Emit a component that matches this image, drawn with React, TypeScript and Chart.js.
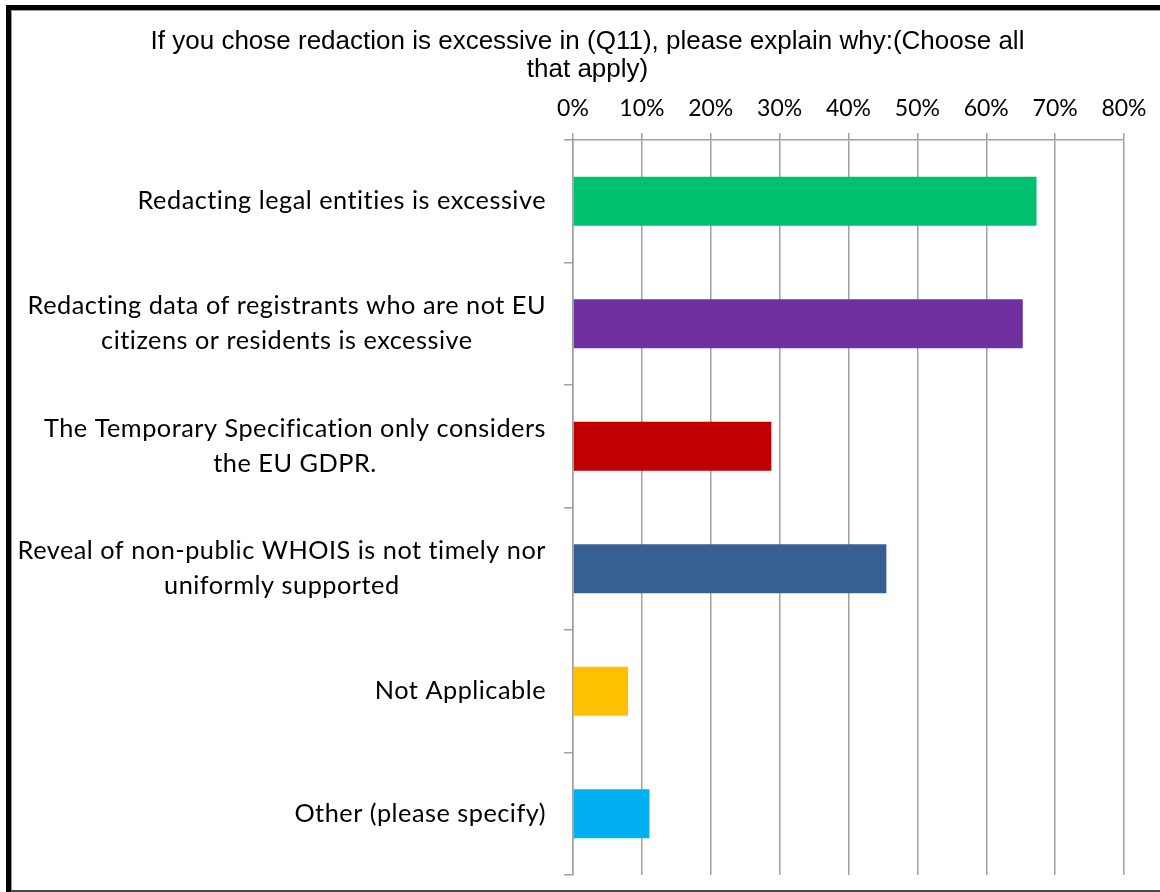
import React, { useEffect, useRef } from 'react';
import { Chart, registerables } from 'chart.js';

Chart.register(...registerables);

const titleLines: string[] = [
  'If you chose redaction is excessive in (Q11), please explain why:(Choose all',
  'that apply)',
];

const categories: string[][] = [
  ['Redacting legal entities is excessive'],
  ['Redacting data of registrants who are not EU', 'citizens or residents is excessive'],
  ['The Temporary Specification only considers', 'the EU GDPR.'],
  ['Reveal of non-public WHOIS is not timely nor', 'uniformly supported'],
  ['Not Applicable'],
  ['Other (please specify)'],
];

const values: number[] = [67.3, 65.3, 28.8, 45.5, 8.0, 11.1];

const barColors: string[] = ['#00BF6F', '#7030A0', '#C00000', '#366092', '#FFC000', '#00B0F0'];

const xMax = 80;
const xStep = 10;

const LABEL_FONT = '25.3px Lato, "Noto Sans", sans-serif';

const frame = {
  id: 'frame',
  beforeDraw(chart: any) {
    const ctx = chart.ctx;
    const w = chart.width;
    const h = chart.height;
    ctx.save();
    ctx.fillStyle = '#ffffff';
    ctx.fillRect(0, 0, w, h);
    ctx.fillStyle = '#000000';
    ctx.fillRect(6, 5, w - 6, 5);
    ctx.fillRect(6, 5, 5, h - 5);
    ctx.fillStyle = '#9a9a9a';
    ctx.fillRect(11, 10, w - 11, 1);
    ctx.fillRect(11, 10, 1, h - 10);
    ctx.fillStyle = '#4a4a4a';
    ctx.fillRect(11, h - 2, w - 11, 2);
    ctx.restore();
  },
};

const yLabels = {
  id: 'yLabels',
  afterDraw(chart: any) {
    const ctx = chart.ctx;
    const ys = chart.scales.y;
    const area = chart.chartArea;
    ctx.save();
    ctx.font = LABEL_FONT;
    try {
      (ctx as any).letterSpacing = '0.5px';
    } catch (e) {
      /* ignore */
    }
    ctx.fillStyle = '#000000';
    ctx.textAlign = 'center';
    ctx.textBaseline = 'middle';
    const lh = 35;
    categories.forEach((lines, i) => {
      const yc = ys.getPixelForValue(i);
      const widest = Math.max(...lines.map((l) => ctx.measureText(l).width));
      const cx = area.left - 27 - widest / 2;
      lines.forEach((l, j) => {
        ctx.fillText(l, cx, yc + (j - (lines.length - 1) / 2) * lh);
      });
    });
    ctx.restore();
  },
};

export default function App() {
  const ref = useRef<HTMLCanvasElement | null>(null);

  useEffect(() => {
    document.body.style.margin = '0';
    const canvas = ref.current;
    if (!canvas) return;
    const chart = new Chart(canvas, {
      type: 'bar',
      data: {
        labels: categories.map((c) => c.join(' ')),
        datasets: [
          {
            data: values,
            backgroundColor: barColors,
            borderWidth: 0,
            barPercentage: 0.4,
            categoryPercentage: 1,
          },
        ],
      },
      options: {
        indexAxis: 'y',
        responsive: false,
        animation: false,
        devicePixelRatio: 1,
        layout: { padding: { left: 15, right: 0, top: 12, bottom: 17 } },
        plugins: {
          legend: { display: false },
          tooltip: { enabled: false },
          title: {
            display: true,
            text: titleLines,
            color: '#000000',
            font: { family: '"Liberation Sans Narrow", "Liberation Sans", Arial, sans-serif', size: 26, weight: 'normal', lineHeight: '28px' },
            padding: { top: 16, bottom: 0 },
          },
        },
        scales: {
          x: {
            position: 'top',
            min: 0,
            max: xMax,
            ticks: {
              stepSize: xStep,
              color: '#000000',
              font: { family: 'Lato, "Noto Sans", sans-serif', size: 23 },
              padding: 11,
              callback: (v: any) => `${v}%`,
            },
            grid: {
              color: '#a0a0a0',
              lineWidth: 1.5,
              tickLength: 7,
            },
            border: { color: '#a0a0a0', width: 1.5 },
            afterFit: (s: any) => {
              s.height = 56;
              s.paddingRight = 36;
            },
          },
          y: {
            ticks: { display: false },
            grid: {
              drawOnChartArea: false,
              color: '#a0a0a0',
              lineWidth: 1.5,
              tickLength: 9,
              offset: true,
            },
            border: { color: '#a0a0a0', width: 1.5 },
            afterFit: (s: any) => {
              s.width = 558;
            },
          },
        },
      },
      plugins: [frame, yLabels],
    });
    return () => chart.destroy();
  }, []);

  return <canvas ref={ref} width={1160} height={892} style={{ display: 'block' }} />;
}
